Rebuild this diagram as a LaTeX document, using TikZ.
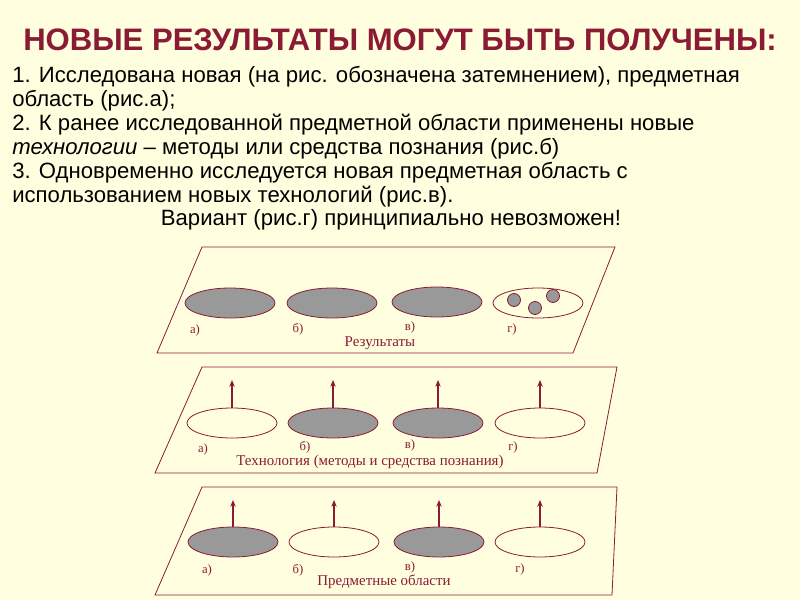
\documentclass[tikz,border=0pt]{standalone}
\usepackage{fontspec}
\usetikzlibrary{arrows.meta}
\setmainfont{Liberation Sans}
\newfontfamily\serifF{Liberation Serif}
\definecolor{bg}{HTML}{FFFFE0}
\definecolor{dred}{HTML}{8B1A35}
\definecolor{gfill}{HTML}{999999}
\begin{document}
\begin{tikzpicture}[x=0.75pt,y=-0.75pt,
  plane/.style={draw=dred,line width=0.6pt},
  full/.style={draw=dred,fill=gfill,line width=0.6pt},
  empty/.style={draw=dred,fill=bg,line width=0.6pt},
  lab/.style={text=dred,font=\serifF\fontsize{9.5}{11}\selectfont,inner sep=0},
  ptitle/.style={text=dred,font=\serifF\fontsize{11.2}{13}\selectfont,inner sep=0},
  up/.style={draw=dred,line width=1.3pt,-{Stealth[length=5pt,width=4pt]}},
  body/.style={font=\fontsize{16.6}{20}\selectfont,anchor=west,inner sep=0}]
\useasboundingbox[fill=bg] (0,0) rectangle (800,600);
\node[text=dred,font=\bfseries\fontsize{23.3}{26}\selectfont] (title) at (400,40) {НОВЫЕ РЕЗУЛЬТАТЫ МОГУТ БЫТЬ ПОЛУЧЕНЫ:};
\node[body] (l1) at (12,77) {1. Исследована новая (на рис. обозначена затемнением), предметная};
\node[body] (l2) at (12,101) {область (рис.а);};
\node[body] (l3) at (12,125) {2. К ранее исследованной предметной области применены новые};
\node[body] (l4) at (12,149) {\textit{технологии} – методы или средства познания (рис.б)};
\node[body] (l5) at (12,173) {3. Одновременно исследуется новая предметная область с};
\node[body] (l6) at (12,197) {использованием новых технологий (рис.в).};
\node[font=\fontsize{16.6}{20}\selectfont,inner sep=0] (l7) at (391,220) {Вариант (рис.г) принципиально невозможен!};
% plane 1
\draw[plane] (202,247) -- (615,247) -- (573,353) -- (157,353) -- cycle;
\draw[full] (230,303) ellipse (45 and 15);
\draw[full] (332,303) ellipse (45 and 15);
\draw[full] (437,302) ellipse (45 and 15);
\draw[empty] (538,303) ellipse (45 and 15);
\draw[full] (514,300) circle (6.5);
\draw[full] (553,296) circle (6.5);
\draw[full] (535,308) circle (6.5);
\node[lab] (a1) at (195,330) {а)};
\node[lab] (b1) at (298,329) {б)};
\node[lab] (c1) at (410,327) {в)};
\node[lab] (d1) at (512,329) {г)};
\node[ptitle] (t1) at (380,343) {Результаты};
% plane 2
\draw[plane] (202,367) -- (617,367) -- (597,473) -- (155,473) -- cycle;
\foreach \x/\s [count=\i] in {232/empty,333/full,438/full,540/empty}{
  \draw[\s] (\x,423) ellipse (45 and 15);
  \coordinate (m\i) at (\x,408); \coordinate (n\i) at (\x,380);
  \draw[up] (m\i) -- (n\i);}
\node[lab] (a2) at (203,449) {а)};
\node[lab] (b2) at (305,447) {б)};
\node[lab] (c2) at (410,445) {в)};
\node[lab] (d2) at (513,447) {г)};
\node[ptitle] (t2) at (370,462) {Технология (методы и средства познания)};
% plane 3
\draw[plane] (202,487) -- (617,487) -- (612,595) -- (155,595) -- cycle;
\foreach \x/\s [count=\i] in {233/full,334/empty,439/full,540/empty}{
  \draw[\s] (\x,542) ellipse (45 and 15);
  \coordinate (p\i) at (\x,527); \coordinate (q\i) at (\x,500);
  \draw[up] (p\i) -- (q\i);}
\node[lab] (a3) at (207,570) {а)};
\node[lab] (b3) at (298,570) {б)};
\node[lab] (c3) at (410,567) {в)};
\node[lab] (d3) at (520,569) {г)};
\node[ptitle] (t3) at (384,582) {Предметные области};
\end{tikzpicture}
\end{document}
